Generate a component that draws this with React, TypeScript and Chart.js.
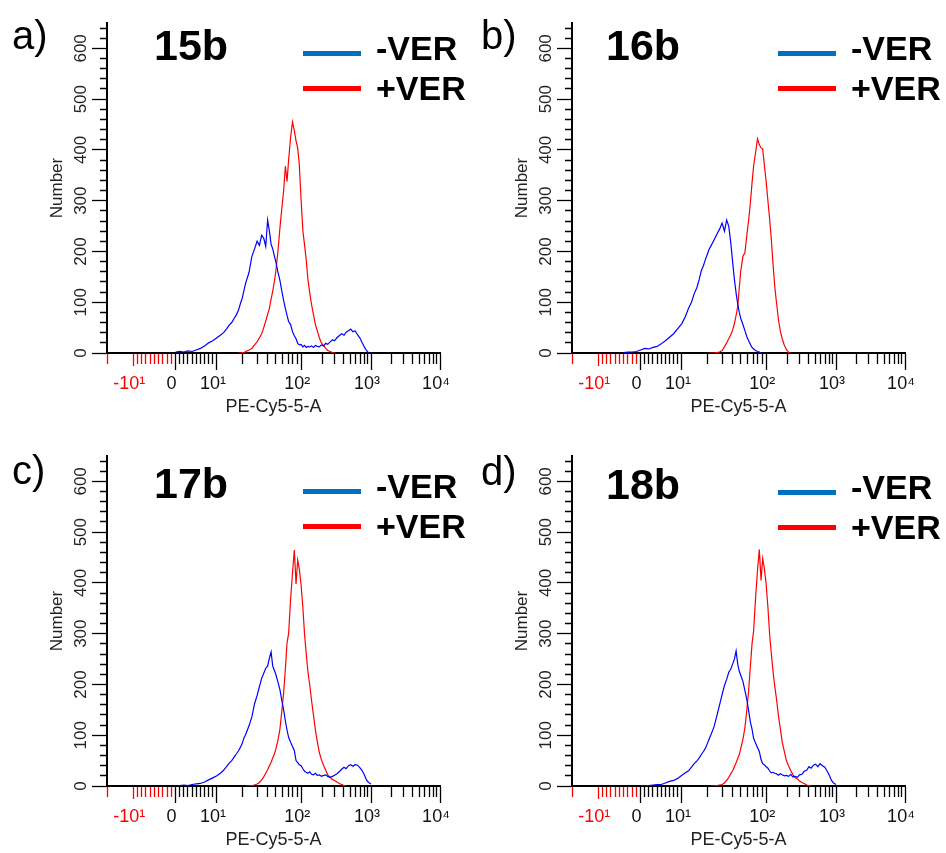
import React, { useEffect, useRef } from "react";
import { Chart, registerables, LinearScale } from "chart.js";

Chart.register(...registerables);

const _ = null;

// Histogram bin centres (PE-Cy5-5-A fluorescence)
const BINS = [
  -4, -3, -2, -1,
  0, 1, 2, 3, 4, 5, 6, 7, 8, 9, 10,
  11, 12, 13, 14, 15, 16, 17, 18, 19, 20, 21, 22,
  24, 26, 28, 30, 32, 34, 36, 38, 40, 42, 44, 46, 48, 50,
  53, 56, 59, 62, 65, 68, 71,
  75, 79, 83, 87, 91, 95, 100,
  106, 112, 118, 125, 133, 141, 150,
  160, 170, 182, 195, 210, 225, 240, 260, 280, 300,
  325, 350, 380, 410, 440, 475, 510, 550, 590, 640, 690, 740, 800, 860, 920, 1000,
];

// 15b
const A_NEG = [
  _, _, _, _,
  2, 3, 2, 4, 3, 6, 9, 14, 20, 24, 30,
  35, 40, 47, 55, 60, 68, 75, 84, 97, 108, 124, 138,
  158, 190, 205, 220, 212, 232, 226, 210, 262, 240, 214, 205, 192, 180,
  160, 143, 122, 103, 88, 74, 62,
  56, 42, 34, 28, 19, 16, 17,
  12, 15, 11, 13, 12, 14, 11,
  15, 13, 12, 16, 14, 19, 17, 22, 26, 24,
  30, 34, 38, 35, 41, 44, 47, 42, 44, 36, 30, 21, 12, 5, 0, _,
];
const A_POS = [
  _, _, _, _,
  _, _, _, _, _, _, _, _, _, _, _,
  _, _, _, _, _, _, _, 0, 0, 1, 1, 3,
  6, 9, 16, 22, 30, 38, 50, 63, 76, 88, 106, 122, 140, 160,
  200, 246, 285, 320, 368, 338, 380,
  425, 455, 438, 418, 404, 372, 300,
  240, 212, 185, 145, 118, 95, 76,
  56, 44, 30, 20, 14, 9, 5, 3, 1, 0,
  _, _, _, _, _, _, _, _, _, _, _, _, _, _, _, _,
];

// 16b
const B_NEG = [
  1, 2, 2, 3,
  6, 9, 8, 11, 13, 18, 24, 31, 38, 48, 58,
  72, 88, 100, 117, 128, 144, 162, 172, 184, 194, 204, 210,
  222, 234, 244, 256, 240, 262, 250, 218, 180, 145, 118, 96, 80, 68,
  56, 44, 32, 24, 17, 11, 8,
  5, 3, 2, 0, _, _, _,
  _, _, _, _, _, _, _,
  _, _, _, _, _, _, _, _, _, _,
  _, _, _, _, _, _, _, _, _, _, _, _, _, _, _, _,
];
const B_POS = [
  _, _, _, _,
  _, _, _, _, _, _, _, _, _, _, _,
  _, _, _, _, _, _, _, _, _, _, 0, 0,
  0, 1, 2, 5, 12, 20, 28, 36, 45, 58, 74, 92, 128, 162,
  190, 198, 232, 262, 296, 335, 368,
  395, 422, 410, 404, 402, 372, 338,
  300, 265, 228, 178, 130, 98, 66,
  42, 28, 15, 7, 1, 0, _, _, _, _,
  _, _, _, _, _, _, _, _, _, _, _, _, _, _, _, _,
];

// 17b
const C_NEG = [
  _, _, _, _,
  0, 1, 2, 1, 3, 4, 5, 8, 12, 16, 20,
  25, 31, 38, 45, 50, 57, 63, 69, 76, 84, 95, 102,
  118, 136, 162, 178, 196, 212, 222, 232, 236, 252, 264, 236, 228, 220,
  205, 190, 168, 150, 128, 110, 96,
  86, 78, 70, 50, 46, 42, 40,
  34, 29, 27, 25, 28, 23, 22,
  25, 21, 22, 19, 21, 22, 19, 17, 19, 21,
  24, 28, 33, 37, 34, 40, 42, 39, 42, 41, 36, 31, 22, 12, 7, 4,
];
const C_POS = [
  _, _, _, _,
  _, _, _, _, _, _, _, _, _, _, _,
  _, _, _, _, _, _, _, _, _, _, _, 0,
  0, 1, 2, 4, 7, 12, 18, 25, 32, 40, 47, 55, 63, 72,
  90, 112, 148, 184, 230, 282, 300,
  368, 420, 465, 398, 445, 428, 395,
  350, 298, 262, 225, 198, 168, 140,
  110, 88, 66, 52, 40, 31, 22, 17, 13, 11,
  8, 5, 3, 1, 0, _, _, _, _, _, _, _, _, _, _, _,
];

// 18b
const D_NEG = [
  _, _, _, _,
  0, 1, 1, 2, 3, 3, 6, 9, 11, 15, 21,
  26, 30, 37, 44, 49, 55, 62, 68, 74, 83, 92, 100,
  116, 138, 160, 180, 198, 210, 224, 230, 240, 250, 266, 240, 226, 218,
  206, 188, 170, 148, 126, 112, 94,
  84, 76, 68, 52, 44, 42, 38,
  35, 30, 26, 27, 25, 24, 21,
  24, 22, 20, 21, 19, 23, 18, 19, 17, 22,
  23, 29, 31, 38, 35, 41, 43, 38, 44, 40, 37, 30, 21, 11, 6, 3,
];
const D_POS = [
  _, _, _, _,
  _, _, _, _, _, _, _, _, _, _, _,
  _, _, _, _, _, _, _, _, _, _, _, 0,
  0, 1, 2, 3, 6, 11, 17, 24, 30, 38, 46, 54, 62, 74,
  92, 115, 150, 188, 236, 280, 305,
  372, 425, 466, 405, 448, 430, 398,
  352, 300, 265, 228, 196, 170, 138,
  112, 86, 68, 50, 39, 30, 23, 16, 14, 10,
  7, 5, 2, 1, 0, _, _, _, _, _, _, _, _, _, _, _,
];

const SERIES_LABELS = ["-VER", "+VER"];
const PANEL_LETTERS = ["a)", "b)", "c)", "d)"];
const PANEL_NAMES = ["15b", "16b", "17b", "18b"];
const PANEL_SERIES = [
  [A_NEG, A_POS],
  [B_NEG, B_POS],
  [C_NEG, C_POS],
  [D_NEG, D_POS],
];

// Biexponential-style display axis: anchor values and their fraction along the axis
const X_ANCHOR_VALUES = [-20, -10, 0, 10, 100, 1000, 10000];
const X_ANCHOR_FRACTIONS = [0, 0.079, 0.206, 0.33, 0.583, 0.793, 1];
const X_TICKS = [
  -20, -10, -9, -8, -7, -6, -5, -4, -3, -2, -1,
  0, 1, 2, 3, 4, 5, 6, 7, 8, 9,
  10, 20, 30, 40, 50, 60, 70, 80, 90,
  100, 200, 300, 400, 500, 600, 700, 800, 900,
  1000, 2000, 3000, 4000, 5000, 6000, 7000, 8000, 9000, 10000,
];
const X_MAJOR = [0, 10, 100, 1000, 10000];
const X_LABEL_VALUES = [-10, 0, 10, 100, 1000, 10000];
const X_LABELS = ["-10\u00B9", "0", "10\u00B9", "10\u00B2", "10\u00B3", "10\u2074"];
const X_TITLE = "PE-Cy5-5-A";

const Y_MIN = 0;
const Y_MAX = 650;
const Y_STEP = 20;
const Y_LABEL_STEP = 100;
const Y_TITLE = "Number";

// styles
const FONT = "'Liberation Sans', Arial, Helvetica, sans-serif";
const LINE_COLORS = ["#0000FF", "#FF0000"];
const LEGEND_COLORS = ["#0070C0", "#FF0000"];
const AXIS_RED = "#FF0000";
const PANEL_LAYOUT = [
  { left: 0, top: 0, letterX: 12, titleX: 154, legendX: 303, dy: 0 },
  { left: 465, top: 0, letterX: 16, titleX: 141, legendX: 313, dy: 0 },
  { left: 0, top: 433, letterX: 12, titleX: 154, legendX: 303, dy: 5 },
  { left: 465, top: 433, letterX: 16, titleX: 141, legendX: 313, dy: 6 },
];

function toFraction(v: number): number {
  const vs = X_ANCHOR_VALUES;
  const fs = X_ANCHOR_FRACTIONS;
  let i = 0;
  while (i < vs.length - 2 && v > vs[i + 1]) i++;
  const a = vs[i];
  const b = vs[i + 1];
  let t: number;
  if (a > 0 && v > 0) t = (Math.log10(v) - Math.log10(a)) / (Math.log10(b) - Math.log10(a));
  else t = (v - a) / (b - a);
  return fs[i] + t * (fs[i + 1] - fs[i]);
}

function fromFraction(f: number): number {
  const vs = X_ANCHOR_VALUES;
  const fs = X_ANCHOR_FRACTIONS;
  let i = 0;
  while (i < fs.length - 2 && f > fs[i + 1]) i++;
  const t = (f - fs[i]) / (fs[i + 1] - fs[i]);
  const a = vs[i];
  const b = vs[i + 1];
  if (a > 0) return Math.pow(10, Math.log10(a) + t * (Math.log10(b) - Math.log10(a)));
  return a + t * (b - a);
}

class BiexScale extends LinearScale {
  static id = "biex";
  determineDataLimits() {
    this.min = X_ANCHOR_VALUES[0];
    this.max = X_ANCHOR_VALUES[X_ANCHOR_VALUES.length - 1];
  }
  buildTicks() {
    return X_TICKS.map((value) => ({ value, major: X_MAJOR.includes(value) }));
  }
  getPixelForValue(value: number) {
    if (value === null || value === undefined || isNaN(value)) return NaN;
    return this.getPixelForDecimal(toFraction(value));
  }
  getValueForPixel(pixel: number) {
    return fromFraction(this.getDecimalForPixel(pixel));
  }
}
Chart.register(BiexScale as any);

function xTickDash(v: number): number[] {
  if (X_MAJOR.includes(v)) return [];
  if (v === -10) return [12, 60];
  return [10, 60];
}

function Panel({ index }: { index: number }) {
  const ref = useRef<HTMLCanvasElement | null>(null);
  const lay = PANEL_LAYOUT[index];
  useEffect(() => {
    if (!ref.current) return;
    const datasets = PANEL_SERIES[index].map((series, k) => ({
      label: SERIES_LABELS[k],
      data: BINS.map((x, i) => ({ x, y: series[i] })).filter((p) => p.y !== null),
      borderColor: LINE_COLORS[k],
      backgroundColor: LINE_COLORS[k],
      borderWidth: 1.2,
      pointRadius: 0,
      tension: 0,
      fill: false,
    }));
    const chart = new Chart(ref.current, {
      type: "line",
      data: { datasets } as any,
      options: {
        animation: false,
        responsive: false,
        events: [],
        layout: { padding: { left: 0, top: 23, right: 25, bottom: 0 } },
        plugins: {
          legend: { display: false },
          tooltip: { enabled: false },
          title: { display: false },
        },
        scales: {
          x: {
            type: "biex",
            position: "bottom",
            border: { display: true, color: "#000", width: 2 },
            grid: {
              display: true,
              drawOnChartArea: false,
              drawTicks: true,
              tickLength: 17,
              tickWidth: 1.3,
              tickColor: (ctx: any) => (ctx.tick && ctx.tick.value < 0 ? AXIS_RED : "#000"),
              tickBorderDash: (ctx: any) => xTickDash(ctx.tick ? ctx.tick.value : 0),
            },
            ticks: {
              autoSkip: false,
              minRotation: 0,
              maxRotation: 0,
              padding: 3,
              labelOffset: -4,
              color: (ctx: any) => (ctx.tick && ctx.tick.value < 0 ? AXIS_RED : "#111"),
              font: { family: FONT, size: 18 },
              callback: (v: any) => {
                const k = X_LABEL_VALUES.indexOf(Number(v));
                return k >= 0 ? X_LABELS[k] : "";
              },
            },
            title: {
              display: true,
              text: X_TITLE,
              color: "#222",
              font: { family: FONT, size: 18 },
              padding: { top: 0, bottom: 15 },
            },
            afterFit: (s: any) => {
              s.height = 80;
            },
          } as any,
          y: {
            type: "linear",
            min: Y_MIN,
            max: Y_MAX,
            border: { display: true, color: "#000", width: 2 },
            grid: {
              display: true,
              drawOnChartArea: false,
              drawTicks: true,
              tickLength: 15,
              tickWidth: 1.3,
              tickColor: "#000",
              tickBorderDash: (ctx: any) =>
                ctx.tick && ctx.tick.value % Y_LABEL_STEP !== 0 ? [0, 8, 30, 0] : [],
            },
            ticks: {
              stepSize: Y_STEP,
              includeBounds: false,
              autoSkip: false,
              minRotation: 90,
              maxRotation: 90,
              crossAlign: "center",
              padding: -3,
              color: "#222",
              font: { family: FONT, size: 17 },
              callback: (v: any) => (Number(v) % Y_LABEL_STEP === 0 ? String(v) : ""),
            },
            title: {
              display: true,
              text: Y_TITLE,
              color: "#222",
              font: { family: FONT, size: 17 },
              padding: { top: 47, bottom: 0 },
            },
            afterFit: (s: any) => {
              s.width = 107;
            },
          } as any,
        },
      } as any,
    });
    return () => chart.destroy();
  }, [index]);

  const dy = lay.dy;
  const textBase = { position: "absolute" as const, lineHeight: "1", whiteSpace: "nowrap" as const, color: "#000" };
  return (
    <div style={{ position: "absolute", left: lay.left, top: lay.top, width: 481, height: 433 }}>
      <canvas ref={ref} width={465} height={433} style={{ display: "block", width: 465, height: 433 }} />
      <div style={{ ...textBase, left: lay.letterX, top: 49 - 0.8465 * 40 + dy * 0.4, fontSize: 40, fontWeight: 400 }}>
        {PANEL_LETTERS[index]}
      </div>
      <div style={{ ...textBase, left: lay.titleX, top: 60 - 0.8465 * 43 + dy, fontSize: 43, fontWeight: 700 }}>
        {PANEL_NAMES[index]}
      </div>
      {SERIES_LABELS.map((label, k) => {
        const lineY = (k === 0 ? 53 : 88) + dy;
        const baseline = (k === 0 ? 60 : 100) + dy;
        return (
          <React.Fragment key={label}>
            <div
              style={{
                position: "absolute",
                left: lay.legendX,
                top: lineY - 2.5,
                width: 58,
                height: 5,
                background: LEGEND_COLORS[k],
              }}
            />
            <div
              style={{
                ...textBase,
                left: lay.legendX + 73,
                top: baseline - 0.8465 * 34,
                fontSize: 34,
                fontWeight: 700,
              }}
            >
              {label}
            </div>
          </React.Fragment>
        );
      })}
    </div>
  );
}

export default function App() {
  return (
    <div
      style={{
        position: "absolute",
        left: 0,
        top: 0,
        width: 946,
        height: 853,
        background: "#fff",
        overflow: "hidden",
        fontFamily: FONT,
      }}
    >
      {[0, 1, 2, 3].map((i) => (
        <Panel key={i} index={i} />
      ))}
    </div>
  );
}
